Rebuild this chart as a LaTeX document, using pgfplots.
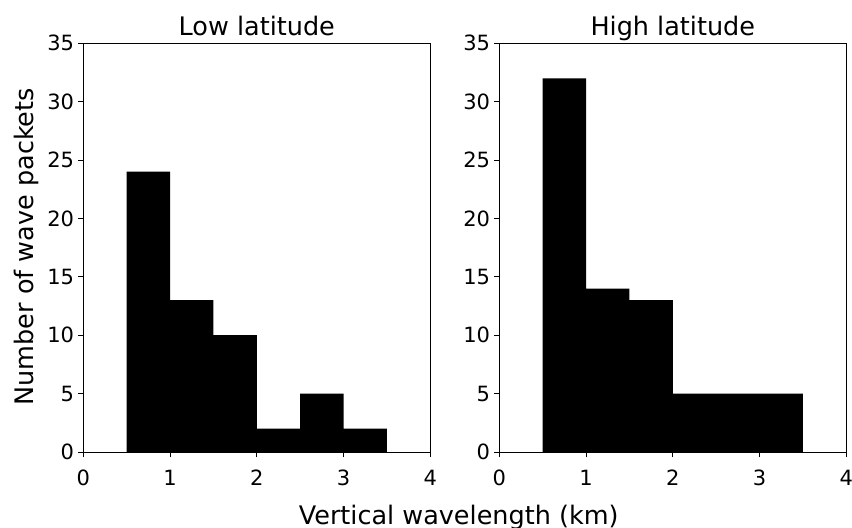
\documentclass[border=0pt]{standalone}
\usepackage{pgfplots}
\pgfplotsset{compat=1.18}
\usepackage{fontspec}
\setmainfont{DejaVu Sans}
\begin{document}
\begin{tikzpicture}
\path[use as bounding box] (0,0) rectangle (426bp,264bp);
\pgfplotsset{
  hist/.style={
    scale only axis,
    width=173.5bp, height=204.35bp,
    xmin=0, xmax=4, ymin=0, ymax=35,
    xtick={0,1,2,3,4}, ytick={0,5,10,15,20,25,30,35},
    xtick pos=bottom, ytick pos=left,
    tick align=outside,
    major tick length=2.5bp,
    axis line style={line width=0.5bp},
    every tick/.style={line width=0.5bp, black},
    /pgf/number format/assume math mode=true,
    tick label style={font=\fontsize{10.5bp}{12bp}\selectfont},
    xticklabel style={anchor=base, inner sep=0pt, yshift=-14bp},
    yticklabel style={anchor=east, inner sep=0pt, xshift=-1.95bp},
    title style={at={(axis description cs:0.5,1)}, anchor=base, yshift=-1.85bp, inner sep=0pt,
      font=\fontsize{12.75bp}{15bp}\selectfont},
  }
}
\begin{axis}[hist, at={(41.65bp,38bp)}, anchor=south west, title={Low latitude}]
\addplot[ybar interval, fill=black, draw=none] coordinates {
(0.5,24) (1.0,13) (1.5,10) (2.0,2) (2.5,5) (3.0,2) (3.5,2)};
\end{axis}
\begin{axis}[hist, at={(249.65bp,38bp)}, anchor=south west, title={High latitude}]
\addplot[ybar interval, fill=black, draw=none] coordinates {
(0.5,32) (1.0,14) (1.5,13) (2.0,5) (2.5,5) (3.0,5) (3.5,5)};
\end{axis}
\node[anchor=base, inner sep=0pt, font=\fontsize{12.75bp}{15bp}\selectfont] at (229.35bp,2bp) {Vertical wavelength (km)};
\node[anchor=base, rotate=90, inner sep=0pt, font=\fontsize{12.75bp}{15bp}\selectfont] at (16.65bp,140.65bp) {Number of wave packets};
\end{tikzpicture}
\end{document}
